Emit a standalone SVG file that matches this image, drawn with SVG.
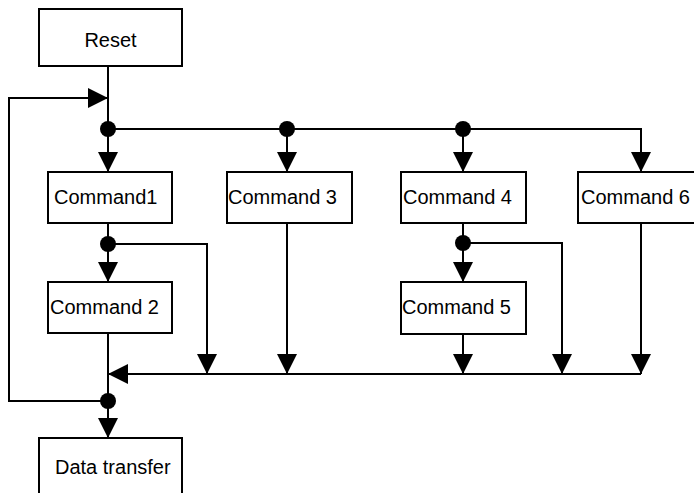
<svg xmlns="http://www.w3.org/2000/svg" width="694" height="493" viewBox="0 0 694 493">
<style>
.box{fill:#fff;stroke:#000;stroke-width:2}
.lbl{font-family:"Liberation Sans",Arial,sans-serif;font-size:20px;fill:#000}
.c{fill:none;stroke:#000;stroke-width:2}
.dot{fill:#000}
</style>
<defs>
<marker id="arr" markerUnits="userSpaceOnUse" markerWidth="20" markerHeight="20" refX="20" refY="10" orient="auto" viewBox="0 0 20 20">
<path d="M0,0 L20,10 L0,20 z" fill="#000"/>
</marker>
</defs>
<rect width="694" height="493" fill="#fff"/>
<g id="connectors">
<path class="c" d="M108,66 V172" marker-end="url(#arr)"/>
<path class="c" d="M108,401 H9 V98 H108" marker-end="url(#arr)"/>
<path class="c" d="M108,129 H641 V172" marker-end="url(#arr)"/>
<path class="c" d="M287,129 V172" marker-end="url(#arr)"/>
<path class="c" d="M463,129 V172" marker-end="url(#arr)"/>
<path class="c" d="M108,223 V282" marker-end="url(#arr)"/>
<path class="c" d="M108,244 H207 V374" marker-end="url(#arr)"/>
<path class="c" d="M463,223 V282" marker-end="url(#arr)"/>
<path class="c" d="M463,243 H562 V374" marker-end="url(#arr)"/>
<path class="c" d="M287,223 V374" marker-end="url(#arr)"/>
<path class="c" d="M463,334 V374" marker-end="url(#arr)"/>
<path class="c" d="M641,223 V374" marker-end="url(#arr)"/>
<path class="c" d="M641,374 H108" marker-end="url(#arr)"/>
<path class="c" d="M108,333 V438" marker-end="url(#arr)"/>
<circle class="dot" cx="108" cy="129" r="8"/>
<circle class="dot" cx="287" cy="129" r="8"/>
<circle class="dot" cx="463" cy="129" r="8"/>
<circle class="dot" cx="108" cy="244" r="8"/>
<circle class="dot" cx="463" cy="243" r="8"/>
<circle class="dot" cx="108" cy="401" r="8"/>
</g>
<g id="reset"><rect class="box" x="39" y="9" width="143" height="57"/><text class="lbl" x="110.5" y="47" text-anchor="middle">Reset</text></g>
<g id="command1"><rect class="box" x="48" y="172" width="124" height="51"/><text class="lbl" x="54" y="204">Command1</text></g>
<g id="command3"><rect class="box" x="227" y="172" width="125" height="51"/><text class="lbl" x="228" y="204">Command 3</text></g>
<g id="command4"><rect class="box" x="401" y="172" width="125" height="51"/><text class="lbl" x="403" y="204">Command 4</text></g>
<g id="command6"><rect class="box" x="578" y="172" width="130" height="51"/><text class="lbl" x="581" y="204">Command 6</text></g>
<g id="command2"><rect class="box" x="48" y="282" width="124" height="51"/><text class="lbl" x="50" y="314">Command 2</text></g>
<g id="command5"><rect class="box" x="401" y="282" width="125" height="52"/><text class="lbl" x="402" y="314">Command 5</text></g>
<g id="datatransfer"><rect class="box" x="39" y="438" width="143" height="70"/><text class="lbl" x="55" y="474">Data transfer</text></g>
</svg>
